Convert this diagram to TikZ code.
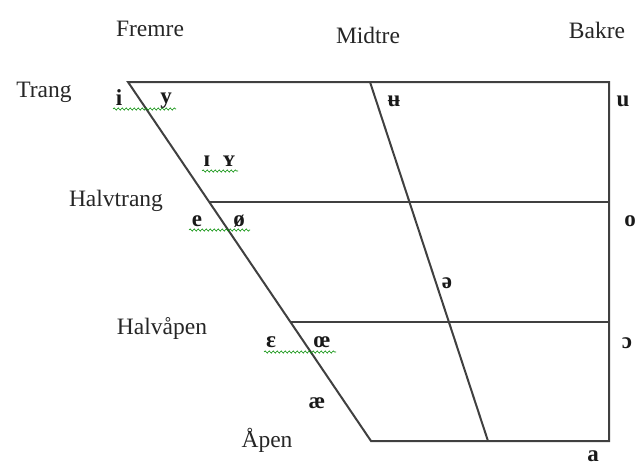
\documentclass[tikz,border=0pt]{standalone}
\usepackage{fontspec}
\setmainfont{Liberation Serif}
\usetikzlibrary{decorations.pathmorphing}
\begin{document}
\begin{tikzpicture}[x=1pt,y=-1pt,
  lbl/.style={font=\fontsize{23.5}{26}\selectfont, text=black!85, inner sep=0pt},
  vow/.style={font=\fontsize{23}{26}\selectfont\bfseries, text=black!90, inner sep=0pt},
  edge/.style={line width=2pt, draw=black!75},
  squig/.style={draw=green!55!black, line width=0.6pt, decorate,
    decoration={snake, amplitude=1.1pt, segment length=4pt}}]
\useasboundingbox (0,0) rectangle (637,466);
% frame coordinates
\coordinate (TL) at (128,82);
\coordinate (TR) at (609,82);
\coordinate (BR) at (609,441);
\coordinate (BL) at (371,441);
\coordinate (MT) at (370,82);
\coordinate (MB) at (488,441);
\coordinate (HT) at (209.6,202);
\coordinate (HTR) at (609,202);
\coordinate (HA) at (291,322);
\coordinate (HAR) at (609,322);
\draw[edge, line join=miter] (TL) -- (TR) -- (BR) -- (BL) -- cycle;
\draw[edge] (MT) -- (MB);
\draw[edge] (HT) -- (HTR);
\draw[edge] (HA) -- (HAR);
% header labels
\node[lbl] (fremre) at (150,29) {Fremre};
\node[lbl] (midtre) at (368,35) {Midtre};
\node[lbl] (bakre) at (597,30) {Bakre};
\node[lbl] (trang) at (44,92) {Trang};
\node[lbl] (halvtrang) at (116,201) {Halvtrang};
\node[lbl] (halvapen) at (162,328) {Halvåpen};
\node[lbl] (apen) at (267,440) {Åpen};
% vowels
\node[vow] (i) at (119,98) {i};
\node[vow] (y) at (166,101) {y};
\node[vow] (smi) at (207,161) {ɪ};
\node[vow] (smy) at (229,161) {ʏ};
\node[vow] (e) at (197,221) {e};
\node[vow] (oe) at (239,221) {ø};
\node[vow] (eps) at (271,342) {ɛ};
\node[vow] (oel) at (322,342) {œ};
\node[vow] (ae) at (317,403) {æ};
\node[vow] (ubar) at (394,101) {ʉ};
\node[vow] (u) at (623,101) {u};
\node[vow] (o) at (630,221) {o};
\node[vow] (schwa) at (447,283) {ə};
\node[vow] (oopen) at (627,343) {ɔ};
\node[vow] (a) at (593,456) {a};
% spell-check underlines
\coordinate (s1a) at (113,109); \coordinate (s1b) at (176,109);
\coordinate (s2a) at (202,171); \coordinate (s2b) at (238,171);
\coordinate (s3a) at (189,230); \coordinate (s3b) at (250,230);
\coordinate (s4a) at (264,352); \coordinate (s4b) at (336,352);
\draw[squig] (s1a) -- (s1b);
\draw[squig] (s2a) -- (s2b);
\draw[squig] (s3a) -- (s3b);
\draw[squig] (s4a) -- (s4b);
\end{tikzpicture}
\end{document}
